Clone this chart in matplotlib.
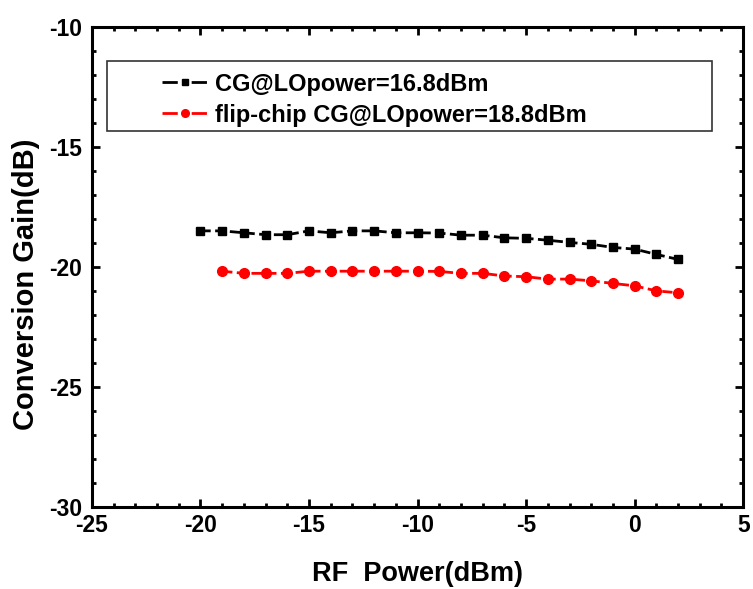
import numpy as np
import matplotlib
matplotlib.use('Agg')
import matplotlib.pyplot as plt
from matplotlib.ticker import MultipleLocator
from matplotlib.lines import Line2D
from matplotlib.patches import Rectangle

plt.rcParams['font.family'] = ['Liberation Sans', 'DejaVu Sans']
plt.rcParams['font.weight'] = 'bold'
plt.rcParams['axes.unicode_minus'] = False

# RF input power (dBm)
rf_cg = list(range(-20, 3))
rf_flip = list(range(-19, 3))

# conversion gain (dB)
cg_168 = [-18.49, -18.49, -18.57, -18.65, -18.65, -18.49, -18.57, -18.49,
          -18.49, -18.57, -18.57, -18.58, -18.67, -18.67, -18.78, -18.80,
          -18.88, -18.97, -19.05, -19.18, -19.25, -19.47, -19.68]
cg_flip_188 = [-20.17, -20.26, -20.26, -20.26, -20.17, -20.17, -20.17, -20.17,
               -20.17, -20.17, -20.18, -20.26, -20.26, -20.37, -20.40, -20.50,
               -20.50, -20.57, -20.68, -20.78, -20.99, -21.07]

labels = ['CG@LOpower=16.8dBm', 'flip-chip CG@LOpower=18.8dBm']

fig = plt.figure(figsize=(7.53, 5.89), dpi=100)
ax = fig.add_axes([0.122, 0.139, 0.865, 0.815])

ax.plot(rf_cg, cg_168, '--', color='black', lw=2, marker='s', ms=6)
ax.plot(rf_flip, cg_flip_188, '--', color='red', lw=2, marker='o', ms=7)

ax.set_xlim(-25, 5)
ax.set_ylim(-30, -10)
ax.xaxis.set_major_locator(MultipleLocator(5))
ax.xaxis.set_minor_locator(MultipleLocator(1))
ax.yaxis.set_major_locator(MultipleLocator(5))
ax.yaxis.set_minor_locator(MultipleLocator(1))
ax.tick_params(which='both', direction='in', top=True, right=True,
               labelsize=16.5, width=2)
ax.tick_params(which='major', length=6)
ax.tick_params(which='minor', length=3)
ax.tick_params(axis='x', pad=5)
ax.tick_params(axis='y', pad=7)
for lab in ax.get_xticklabels() + ax.get_yticklabels():
    lab.set_fontweight('bold')
for sp in ax.spines.values():
    sp.set_linewidth(2.2)

ax.set_xlabel('RF  Power(dBm)', fontsize=19.5, fontweight='bold')
ax.set_ylabel('Conversion Gain(dB)', fontsize=21, fontweight='bold')
ax.xaxis.set_label_coords(0.5, -0.112)
ax.yaxis.set_label_coords(-0.08, 0.465)

# legend: framed box drawn separately, entries placed left inside it
ax.add_patch(Rectangle((0.023, 0.783), 0.929, 0.146, transform=ax.transAxes,
                       fill=False, edgecolor='#333333', lw=1.2, zorder=3))
handles = [
    Line2D([], [], color='black', lw=2, dashes=(5.5, 5), marker='s', ms=4.5),
    Line2D([], [], color='red', lw=2, dashes=(5.5, 5), marker='o', ms=5.5),
]
leg = ax.legend(handles, labels, loc='center left', bbox_to_anchor=(0.1075, 0.849),
                fontsize=17, frameon=False, handlelength=1.95, handletextpad=0.3,
                borderpad=0, labelspacing=0.34, borderaxespad=0)
for t in leg.get_texts():
    t.set_fontweight('bold')

fig.savefig('out.png', dpi=100)
